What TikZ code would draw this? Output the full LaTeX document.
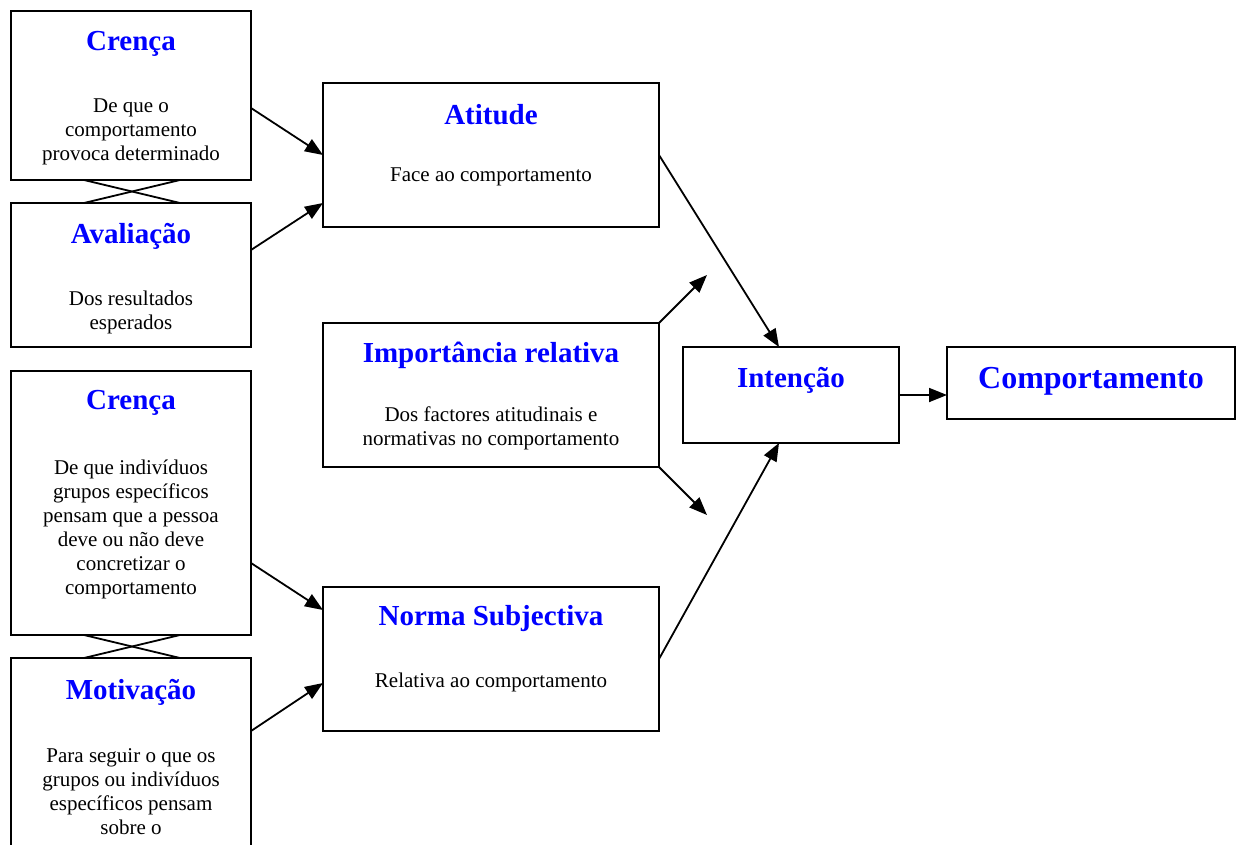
\documentclass[tikz,border=0pt]{standalone}
\usepackage{fontspec}
\setmainfont{Liberation Serif}
\usetikzlibrary{arrows.meta}
\definecolor{hblue}{RGB}{0,0,255}
\begin{document}
\begin{tikzpicture}[x=1pt,y=-1pt,
  box/.style={draw, line width=1.8pt, anchor=north west, inner sep=0pt, outer sep=0pt},
  head/.style={text=hblue, font=\fontsize{29}{33}\selectfont\bfseries, inner sep=0pt},
  body/.style={font=\fontsize{21}{24}\selectfont, align=center, inner sep=0pt},
  arr/.style={line width=1.8pt, -{Triangle[length=18pt,width=14pt]}},
  xline/.style={line width=1.8pt}]
\useasboundingbox (0,0) rectangle (1239,845);
\clip (0,0) rectangle (1239,845);
\fill[white] (0,0) rectangle (1239,845);

% left column
\node[box, minimum width=240pt, minimum height=169pt] (c1) at (11,11) {};
\node[head] (c1h) at (131,44) {Crença};
\node[body] (c1t) at (131,132) {De que o\\comportamento\\provoca determinado};

\node[box, minimum width=240pt, minimum height=144pt] (av) at (11,203) {};
\node[head] (avh) at (131,236) {Avaliação};
\node[body] (avt) at (131,312) {Dos resultados\\esperados};

\node[box, minimum width=240pt, minimum height=264pt] (c2) at (11,371) {};
\node[head] (c2h) at (131,403) {Crença};
\node[body] (c2t) at (131,529) {De que indivíduos\\grupos específicos\\pensam que a pessoa\\deve ou não deve\\concretizar o\\comportamento};

\node[box, minimum width=240pt, minimum height=250pt] (mo) at (11,658) {};
\node[head] (moh) at (131,692) {Motivação};
\node[body] (mot) at (131,792) {Para seguir o que os\\grupos ou indivíduos\\específicos pensam\\sobre o};

% middle column
\node[box, minimum width=336pt, minimum height=144pt] (at) at (323,83) {};
\node[head] (ath) at (491,115) {Atitude};
\node[body] (att) at (491,177) {Face ao comportamento};

\node[box, minimum width=336pt, minimum height=144pt] (im) at (323,323) {};
\node[head] (imh) at (491,355) {Importância relativa};
\node[body] (imt) at (491,428) {Dos factores atitudinais e\\normativas no comportamento};

\node[box, minimum width=336pt, minimum height=144pt] (no) at (323,587) {};
\node[head] (noh) at (491,619) {Norma Subjectiva};
\node[body] (nob) at (491,682) {Relativa ao comportamento};

% right
\node[box, minimum width=216pt, minimum height=96pt] (in) at (683,347) {};
\node[head] (inh) at (791,380) {Intenção};

\node[box, minimum width=288pt, minimum height=72pt] (co) at (947,347) {};
\node[head, font=\fontsize{32}{36}\selectfont\bfseries] (coh) at (1091,381) {Comportamento};

% crosses
\draw[xline] ([xshift=73pt]c1.south west) -- ([xshift=169pt]av.north west);
\draw[xline] ([xshift=169pt]c1.south west) -- ([xshift=73pt]av.north west);
\draw[xline] ([xshift=73pt]c2.south west) -- ([xshift=169pt]mo.north west);
\draw[xline] ([xshift=169pt]c2.south west) -- ([xshift=73pt]mo.north west);

% arrows
\draw[arr] ([yshift=-97pt]c1.north east) -- ([yshift=-72pt]at.north west);
\draw[arr] ([yshift=-47pt]av.north east) -- ([yshift=-120pt]at.north west);
\draw[arr] ([yshift=-192pt]c2.north east) -- ([yshift=-23pt]no.north west);
\draw[arr] ([yshift=-73pt]mo.north east) -- ([yshift=-96pt]no.north west);
\draw[arr] ([yshift=-72pt]at.north east) -- ([xshift=-12pt]in.north);
\draw[arr] ([yshift=-72pt]no.north east) -- ([xshift=-12pt]in.south);
\coordinate (up) at (707,275);
\coordinate (dn) at (707,515);
\draw[arr] (im.north east) -- (up);
\draw[arr] (im.south east) -- (dn);
\draw[arr] ([yshift=-48pt]in.north east) -- ([yshift=-48pt]in.north east -| co.west);
\end{tikzpicture}
\end{document}
